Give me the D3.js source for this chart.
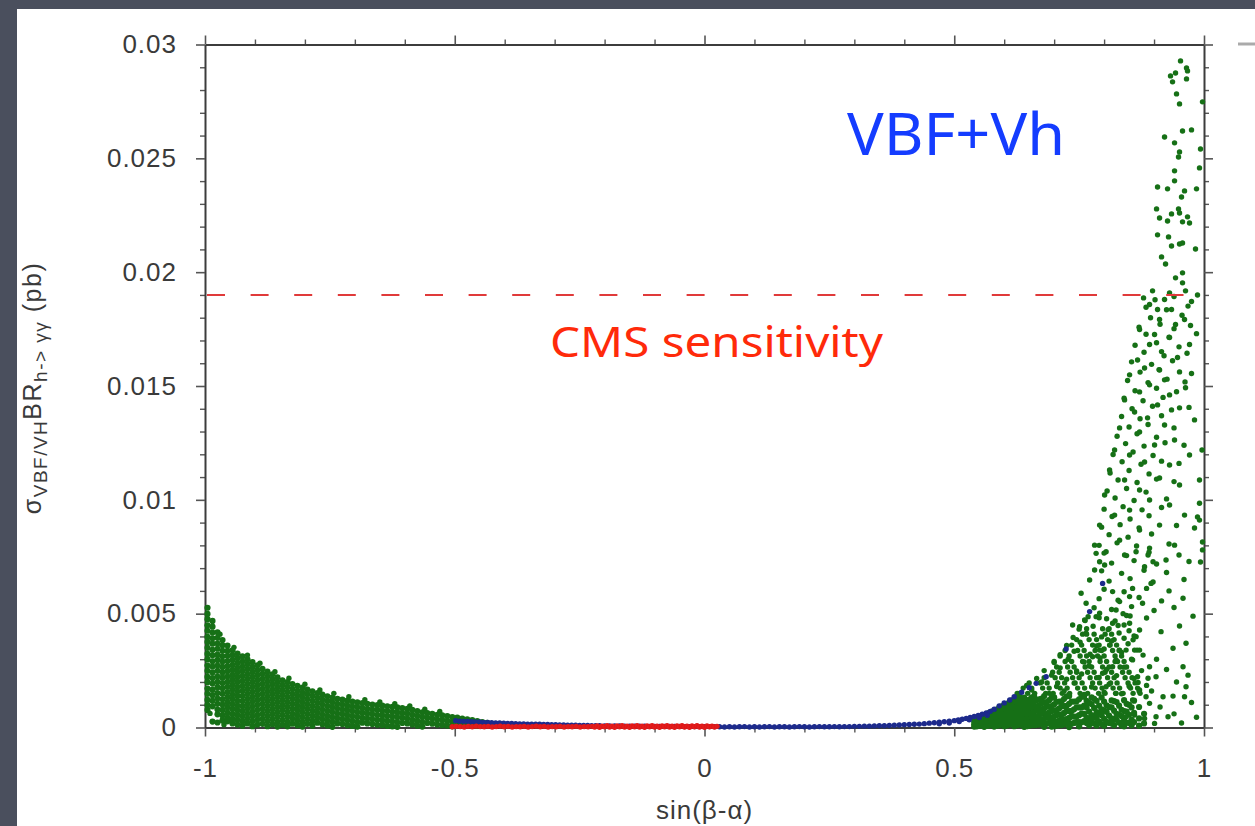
<!DOCTYPE html>
<html><head><meta charset="utf-8">
<script src="https://cdn.jsdelivr.net/npm/d3@7"></script>
<style>body{margin:0;background:#4a4f5d;}svg{display:block}</style>
</head><body>
<svg id="c" width="1255" height="826"></svg>
<script>
// ---- data (x in units of 0.001 of sin(beta-alpha), y in units of 1e-5 pb) ----
const xMajorTicks = [-1, -0.5, 0, 0.5, 1];
const xTickLabels = ["-1", "-0.5", "0", "0.5", "1"];
const yMajorTicks = [0, 0.005, 0.01, 0.015, 0.02, 0.025, 0.03];
const yTickLabels = ["0", "0.005", "0.01", "0.015", "0.02", "0.025", "0.03"];
const cmsSensitivity = 0.019;

// left green band, columns [x, [y...]]
const greenLeftCols = [
[-995,[526,499,476,449,425,398,376,350,323,299,272,249,222,199,171,148,121,98,77]],
[-985,[468,443,417,392,368,341,317,291,268,242,217,193,166,142,117,93,26]],
[-975,[418,394,369,346,320,297,272,249,224,200,176,151,127,104,79,58,22]],
[-965,[384,361,337,313,290,266,242,219,195,172,148,124,101,77,53,31]],
[-955,[360,337,315,292,269,247,224,201,179,156,133,110,88,65,43,27]],
[-945,[339,317,296,274,253,231,210,188,167,145,124,102,81,59,38,18]],
[-935,[325,304,283,262,242,221,200,179,158,138,117,96,75,54,34,13]],
[-925,[312,290,268,247,225,203,181,160,138,116,94,73,51,29,8]],
[-915,[299,278,256,234,213,191,169,148,126,104,83,61,39,18]],
[-905,[287,265,244,222,200,179,157,135,114,92,70,49,27,6]],
[-895,[273,251,230,208,186,165,143,121,100,78,56,35,13]],
[-885,[258,236,214,192,170,148,126,104,82,60,38,16]],
[-875,[245,224,202,180,158,136,115,93,71,49,27,6]],
[-865,[233,211,189,167,146,124,102,80,58,36,14]],
[-855,[220,198,176,155,133,111,89,67,46,24,4]],
[-845,[207,186,164,142,120,98,77,55,33,12]],
[-835,[199,178,156,134,112,91,69,47,25,5]],
[-825,[191,169,147,126,104,82,60,39,17]],
[-815,[183,161,140,118,96,75,53,31,10]],
[-805,[175,153,132,110,88,67,45,24,4]],
[-795,[167,146,124,102,81,59,37,16]],
[-785,[159,138,116,94,73,51,29,8]],
[-775,[151,130,108,86,65,43,21]],
[-765,[144,122,101,79,57,36,14]],
[-755,[137,116,94,73,51,30,9]],
[-745,[131,110,88,67,45,24,3]],
[-735,[126,104,83,61,40,18]],
[-725,[122,101,79,58,36,15]],
[-715,[118,96,75,53,32,10]],
[-705,[114,92,71,49,28,7]],
[-695,[110,89,67,46,24,4]],
[-685,[107,85,64,42,21]],
[-675,[104,82,61,39,18]],
[-665,[101,79,58,36,15]],
[-655,[98,77,55,34,12]],
[-645,[96,74,53,31,10]],
[-635,[93,72,50,29,7]],
[-625,[91,69,48,26,5]],
[-615,[88,66,45,23,3]],
[-605,[85,63,42,20]],
[-595,[82,61,39,18]],
[-585,[77,56,34,13]],
[-575,[72,51,29,8]],
[-565,[67,46,24,4]],
[-555,[63,42,20]],
[-545,[60,39,17]],
[-535,[56,35,13]],
[-525,[53,32,10]],
[-515,[50,29,8]],
[-505,[46,25,5]],
[-495,[43,22]],
[-485,[39,18]],
[-475,[36,15]],
[-465,[32,12]],
[-455,[28,8]],
[-445,[24]],
[-435,[20]]
];
// scattered points on the fuzzy upper edge of the left band [x,y,...]
const greenLeftEdge = [-970,410,-942,352,-915,318,-890,282,-860,245,-832,216,-800,190,-770,165,-742,150,-712,135,-680,122,-650,112,-620,104,-590,95,-560,80,-530,70,-990,62,-962,12];

// right green dense bottom part, columns [x, [y...]]
const greenRightCols = [
[540,[38,26,14,4]],[550,[46,33,20,8]],[560,[55,41,28,15,3]],[570,[64,50,36,22,9]],
[580,[74,59,44,30,16,4]],[590,[86,70,54,39,24,10]],[600,[98,82,66,50,35,20,6]],
[610,[110,93,76,60,44,28,13]],[620,[123,105,88,70,53,37,21,6]],[630,[138,118,99,80,62,45,28,12]],
[640,[131,110,90,70,52,34,17,3]],[650,[122,100,80,60,41,22,8]],[660,[136,112,90,68,47,27,10]],
[670,[124,98,76,54,33,14]],[680,[138,110,84,60,38,16,3]],[690,[120,92,66,42,20]],
[700,[132,102,74,48,24,6]],[710,[114,84,56,30,10]],[720,[126,94,64,36,14]],
[730,[138,104,72,42,16,2]],[740,[114,80,48,20]],[750,[124,88,54,24,5]],[760,[136,96,60,28]],
[770,[108,70,36,10]],[780,[126,86,50,18]],[790,[96,60,26]],[800,[114,74,38,8]],
[810,[90,52,20]],[820,[116,74,38,10]],[830,[96,56,22]],[840,[120,72,32,5]],
[850,[100,56,20]],[860,[118,64,24]],[870,[90,40,8]],[880,[60,18]]
];
const greenRightFill = [
[545,[43,29,18,5]],[555,[51,36,25,10]],[565,[58,47,31,20,7]],[575,[70,53,41,25,13]],
[585,[79,66,47,35,19,8]],[595,[93,74,61,43,31,14]],[605,[102,89,70,57,38,25,9]],
[615,[119,97,84,63,50,31,18]],[625,[128,113,90,77,56,43,24,10]],[635,[122,107,83,68,46,33,13]],
[645,[113,97,72,58,36,22,6]],[655,[132,103,88,61,47,23,11]],[665,[121,91,76,48,33,12]],
[675,[127,108,77,61,34,17]],[685,[112,92,59,44,16]],[695,[131,94,73,43,25,4]],
[705,[113,76,55,25,9]],[715,[115,93,57,36,11]],[725,[137,95,72,37,17]],[735,[114,73,49,16]],
[745,[115,89,48,24]],[755,[135,88,61,23]],[765,[117,88,44,20]],[775,[132,103,55,30]],
[785,[117,68,42,9]],[795,[132,80,54,15]],[805,[97,69,25]],[815,[119,88,40,18]],
[825,[112,60,34]],[835,[78,50,10]],[845,[104,70,22]],[855,[88,35,10]]
];
// right green upper part of the dense cluster, rows [y, [x...]]
const greenRightRows = [
[150,[626,647,661,683,698,716,731,752,767,789,802,823,838,858,872]],
[173,[638,655,677,690,712,726,747,761,782,796,818,831,853,867]],
[196,[650,672,686,707,721,742,756,777,791,813,826,848,862]],
[219,[680,702,715,737,750,772,785,807,820,842,856]],
[243,[697,710,732,745,767,780,802,815,837,850]],
[266,[705,727,740,762,775,797,810,832,845]],
[290,[700,722,735,757,770,792,805,827,840]],
[314,[712,730,752,765,787,800,822,835]],
[338,[722,747,760,782,795,817,830]],
[362,[735,755,777,790,812,825]],
[386,[745,770,785,807,820]],
[410,[757,780,802,815]],
[434,[765,797,810]]
];
// right green medium-density zone above the dense bottom [x,y,...]
const greenRightMid = [
630,150,655,165,690,150,720,160,760,145,800,155,835,148,870,160,
645,185,675,200,705,180,740,195,775,178,810,190,850,182,
665,215,695,230,725,212,755,235,790,220,825,228,860,215,
680,250,712,262,745,248,770,270,805,255,840,265,875,250,
700,285,728,300,760,288,792,305,822,290,855,300,
712,320,740,335,772,322,800,345,835,330,866,340,
725,360,752,375,785,358,815,380,848,368,
738,395,765,410,795,398,830,415,860,402,
750,432,778,445,808,430,840,450,
762,470,790,482,822,468,852,490,
885,185,868,198,878,318,858,385,840,392,850,425,828,448,838,500
];
// right green scattered points [x,y,...]
const greenRightScatter = [
953,2928,965,2897,967,2884,943,2875,933,2862,937,2836,965,2849,945,2783,951,2739,997,2748,
921,2594,941,2568,957,2620,975,2625,951,2528,949,2506,993,2541,991,2458,941,2445,941,2401,
907,2374,927,2366,985,2366,961,2357,955,2330,905,2278,949,2278,935,2256,911,2238,927,2225,
951,2260,957,2221,971,2216,967,2243,907,2164,929,2155,935,2115,951,2124,957,2128,983,2102,
915,2067,923,2036,957,1997,943,1975,957,1953,963,1918,897,1918,931,1909,879,1887,987,1900,
921,1880,891,1858,907,1836,935,1836,911,1792,961,1792,943,1770,871,1748,901,1726,931,1713,
971,1682,891,1682,915,1651,947,1625,867,1614,881,1579,911,1570,951,1562,851,1549,921,1527,
891,1505,963,1492,871,1474,931,1461,841,1439,907,1417,951,1404,861,1386,887,1360,981,1351,
921,1329,831,1316,871,1298,941,1263,901,1241,821,1219,851,1197,971,1197,881,1166,931,1153,
996,1219,811,1131,911,1096,841,1087,951,1065,871,1043,991,1087,801,1021,891,999,931,977,
851,955,821,933,961,933,791,889,911,889,871,867,991,911,831,823,781,801,941,801,891,788,
991,985,987,925,981,876,997,815,997,780,993,727,
784,765,801,714,841,758,864,772,888,758,898,728,924,736,881,706,894,633,857,611,
817,597,831,553,851,575,877,546,791,502,824,516,817,458,851,458,871,428,914,421,
951,446,964,370,938,348,958,267,964,179,961,135,938,138,918,135,928,47,904,47,
891,106,904,223,891,267,871,340,864,399,844,340,857,297,884,135,857,121,844,47,
861,55,881,40,901,18,851,179,871,165,824,150,804,179,817,267,797,238,824,297,
861,340,888,216,867,223,831,340,811,362,791,340,777,311,764,414,751,443,737,450,
761,472,784,487,764,546,754,590,771,648,781,692,791,728,804,772,
895,160,912,90,940,60,955,20,975,110,985,45,968,230,945,200,925,255,905,300
];
// additional points filling the middle wedge [x,y,...]
const greenWedge = [
902,1879,940,1893,975,1871,
884,1846,925,1835,968,1851,
893,1800,956,1811,
870,1758,912,1771,940,1752,973,1766,
884,1727,930,1714,985,1730,
862,1679,905,1690,950,1672,
880,1648,920,1633,966,1644,
855,1606,895,1595,937,1611,
872,1561,910,1572,975,1555,
847,1524,888,1515,926,1530,962,1518,
862,1479,905,1490,945,1475,
840,1446,878,1435,918,1450,
856,1400,897,1411,935,1395,970,1406,
835,1366,872,1356,915,1369,
850,1320,888,1331,940,1316,
826,1279,866,1290,905,1275,
843,1247,880,1236,922,1251,960,1240,
818,1199,858,1210,898,1195,
836,1167,874,1156,915,1170,950,1160,
812,1118,850,1129,890,1114,
828,1087,866,1076,905,1091,940,1080,
806,1039,845,1050,884,1034,
822,1008,860,997,925,1004,
800,959,838,970,876,956,915,966,
816,927,852,916,890,930,
795,880,832,891,870,877,945,887,
810,847,848,836,895,850,
790,800,826,811,865,797,930,806,
800,766,845,755,890,770,950,758,
815,722,860,733,905,718,970,729,
795,688,835,677,880,691,925,681,
810,643,852,654,898,639,960,650,
800,607,840,596,885,611,930,600,
790,566,828,559,870,571,915,556,958,568,
780,526,815,518,855,531,900,514,940,527,
768,487,805,478,845,492,885,481,978,489
];
// blue points [x,y,...]
const bluePts = [
-498,30,-490,28,-482,27,-474,27,-466,25,-458,24,-450,24,-442,22,-434,22,-426,21,-418,20,-410,20,
-402,19,-394,18,-386,18,-378,17,-370,16,-362,16,-354,15,-346,15,-338,14,-330,14,-322,13,-314,13,
-306,12,-298,12,-290,11,-282,11,-274,10,-266,10,-258,10,-250,9,-242,9,-234,9,-226,8,-218,8,
-210,8,-200,7,-190,7,-180,7,-170,7,-160,6,-150,6,-140,6,-130,6,-120,6,-110,5,-100,5,-90,5,
-80,5,-70,5,-60,5,-50,5,-40,4,-30,4,-20,4,-10,4,0,4,10,4,20,4,
30,3,40,2,50,3,60,2,70,3,80,4,90,2,100,3,110,2,120,3,130,4,140,2,150,3,160,3,170,2,180,3,
190,4,200,3,210,2,220,3,230,4,240,3,250,3,260,4,270,3,280,4,290,4,
300,5,310,5,320,6,330,6,340,7,350,8,360,8,370,9,380,10,390,11,400,12,410,13,420,14,430,15,
440,17,450,19,460,21,470,23,480,25,490,28,500,30,508,33,516,36,524,40,532,44,540,48,548,53,
556,58,564,64,572,71,580,80,590,95,600,108,611,121,620,135,635,155,650,175,664,194,684,223,
724,345,771,509,797,633,
470,16,490,20,510,26,530,34,550,44,566,54
];
// red points [x,y,...]
const redPts = [
-505,3,-497,5,-489,4,-481,2,-473,5,-465,3,-457,6,-449,4,-441,3,-433,5,-425,2,-417,4,-409,6,
-401,3,-393,5,-385,2,-377,4,-369,3,-361,5,-353,2,-345,4,-337,6,-329,3,-321,5,-313,2,-305,4,
-297,3,-289,5,-281,2,-273,4,-265,3,-257,5,-249,2,-241,4,-233,3,-225,5,
-220,2,-215,7,-210,1,-205,6,-200,3,-195,8,-190,2,-185,6,-180,1,-175,7,-170,3,-165,8,-160,2,
-155,6,-150,1,-145,7,-140,3,-135,8,-130,2,-125,6,-120,1,-115,7,-110,3,-105,8,-100,2,-95,6,
-90,1,-85,7,-80,3,-75,8,-70,2,-65,6,-60,1,-55,7,-50,3,-45,8,-40,2,-35,6,-30,1,-25,7,-20,3,
-15,8,-10,2,-5,6,0,1,5,7,10,3,15,6,20,2,25,5
];

// ---- build point tables ----
function fromCols(cols){ const o=[]; cols.forEach(([xv,ys])=>ys.forEach(yv=>o.push([xv/1000,yv/1e5]))); return o; }
function fromRows(rows){ const o=[]; rows.forEach(([yv,xs])=>xs.forEach(xv=>o.push([xv/1000,yv/1e5]))); return o; }
function fromFlat(a){ const o=[]; for(let i=0;i<a.length;i+=2) o.push([a[i]/1000,a[i+1]/1e5]); return o; }
const greenBand = fromCols(greenLeftCols).concat(fromCols(greenRightCols), fromCols(greenRightFill));
const greenSparse = fromFlat(greenLeftEdge).concat(fromRows(greenRightRows), fromFlat(greenRightMid), fromFlat(greenRightScatter), fromFlat(greenWedge));
const blue = fromFlat(bluePts);
const red = fromFlat(redPts);

// ---- drawing ----
const svg = d3.select("#c");
const defs = svg.append("defs");
defs.append("filter").attr("id","soft").append("feGaussianBlur").attr("stdDeviation",0.6);
svg.append("rect").attr("width",1255).attr("height",826).attr("fill","#4a4f5d");
svg.append("rect").attr("x",17).attr("y",9).attr("width",1238).attr("height",817).attr("fill","#ffffff");

const x = d3.scaleLinear().domain([-1,1]).range([205,1204]);
const y = d3.scaleLinear().domain([0,0.03]).range([727.5,44.5]);

const xMinor = d3.range(-10,11).map(i=>i/10).filter(v=>!xMajorTicks.some(m=>Math.abs(m-v)<1e-9));
const yMinor = d3.range(0,31).map(i=>i/1000).filter(v=>!yMajorTicks.some(m=>Math.abs(m-v)<1e-9));

const font = "'Liberation Sans', Arial, Helvetica, sans-serif";
function style(g){
  g.select(".domain").attr("stroke","#3c3c3c").attr("stroke-width",2);
  g.selectAll(".tick line").attr("stroke","#555").attr("stroke-width",1.6);
  g.selectAll(".tick text").attr("font-family",font).attr("font-size",26).attr("letter-spacing","1px").attr("fill","#3a3a3a");
}
[[d3.axisBottom(x).tickValues(xMinor),`translate(0,${y(0)})`],
 [d3.axisTop(x).tickValues(xMinor),`translate(0,${y(0.03)})`],
 [d3.axisLeft(y).tickValues(yMinor),`translate(${x(-1)},0)`],
 [d3.axisRight(y).tickValues(yMinor),`translate(${x(1)},0)`]].forEach(([ax,tr])=>{
  const g = svg.append("g").attr("transform",tr).call(ax.tickSize(5).tickSizeOuter(0).tickFormat(""));
  g.select(".domain").remove();
  g.selectAll(".tick line").attr("stroke","#555").attr("stroke-width",1.4);
});
svg.append("g").attr("transform",`translate(0,${y(0)})`)
  .call(d3.axisBottom(x).tickValues(xMajorTicks).tickSize(9).tickSizeOuter(0).tickPadding(22).tickFormat((d,i)=>xTickLabels[i]))
  .call(style);
svg.append("g").attr("transform",`translate(0,${y(0.03)})`)
  .call(d3.axisTop(x).tickValues(xMajorTicks).tickSize(9).tickSizeOuter(0).tickFormat(""))
  .call(style);
svg.append("g").attr("transform",`translate(${x(-1)},0)`)
  .call(d3.axisLeft(y).tickValues(yMajorTicks).tickSize(9).tickSizeOuter(0).tickPadding(19).tickFormat((d,i)=>yTickLabels[i]))
  .call(style);
svg.append("g").attr("transform",`translate(${x(1)},0)`)
  .call(d3.axisRight(y).tickValues(yMajorTicks).tickSize(9).tickSizeOuter(0).tickFormat(""))
  .call(style);

// points
const pts = svg.append("g").attr("filter","url(#soft)");
pts.selectAll("circle.gb").data(greenBand).join("circle").attr("class","gb")
  .attr("cx",d=>x(d[0])).attr("cy",d=>y(d[1])).attr("r",3.1).attr("fill","#157015");
pts.selectAll("circle.gs").data(greenSparse).join("circle").attr("class","gs")
  .attr("cx",d=>x(d[0])).attr("cy",d=>y(d[1])).attr("r",2.7).attr("fill","#157015");
pts.selectAll("circle.b").data(blue).join("circle").attr("class","b")
  .attr("cx",d=>x(d[0])).attr("cy",d=>y(d[1])).attr("r",2.7).attr("fill","#1c2a8c");
pts.selectAll("circle.r").data(red).join("circle").attr("class","r")
  .attr("cx",d=>x(d[0])).attr("cy",d=>y(d[1])).attr("r",2.7).attr("fill","#e01a1a");

// CMS sensitivity line
svg.append("line").attr("x1",x(-1)+2).attr("x2",x(0.959)).attr("y1",y(cmsSensitivity)).attr("y2",y(cmsSensitivity))
  .attr("stroke","#e03a3a").attr("stroke-width",2).attr("stroke-dasharray","18,25.6");

// stray grey dash at top right
svg.append("line").attr("x1",1238).attr("x2",1255).attr("y1",44).attr("y2",44).attr("stroke","#aaaaaa").attr("stroke-width",3);

// axis titles
svg.append("text").attr("x",x(0)).attr("y",819).attr("text-anchor","middle")
  .attr("font-family",font).attr("font-size",26).attr("letter-spacing","1px").attr("fill","#3a3a3a").text("sin(β-α)");

const yl = svg.append("text").attr("transform","rotate(-90)").attr("x",-388).attr("y",41).attr("text-anchor","middle")
  .attr("font-family",font).attr("font-size",25).attr("letter-spacing","1.5px").attr("fill","#3a3a3a");
yl.append("tspan").text("σ");
yl.append("tspan").attr("font-size",19).attr("dy",6).text("VBF/VH");
yl.append("tspan").attr("dy",-6).text("BR");
yl.append("tspan").attr("font-size",19).attr("dy",6).text("h-> γγ");
yl.append("tspan").attr("dy",-6).text(" (pb)");

// annotations
svg.append("text").attr("x",847).attr("y",155).attr("textLength",218).attr("lengthAdjust","spacingAndGlyphs")
  .attr("font-family","'Noto Sans', sans-serif").attr("font-size",58).attr("fill","#143cff").text("VBF+Vh");
svg.append("text").attr("x",550).attr("y",357).attr("textLength",333).attr("lengthAdjust","spacingAndGlyphs")
  .attr("font-family","'Noto Sans', sans-serif").attr("font-size",42).attr("fill","#ff2a0a").text("CMS sensitivity");
</script>
</body></html>
